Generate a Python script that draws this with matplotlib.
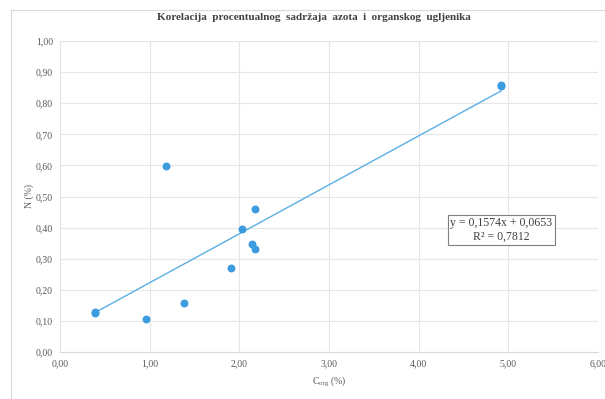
import numpy as np
import matplotlib.pyplot as plt

plt.rcParams['font.family'] = ['Liberation Serif', 'DejaVu Serif']
plt.rcParams['mathtext.fontset'] = 'custom'
plt.rcParams['mathtext.rm'] = 'Liberation Serif'

c_org = [0.39, 0.395, 0.96, 1.18, 1.38, 1.91, 2.03, 2.14, 2.18, 2.18, 4.92, 4.92]
n_pct = [0.128, 0.124, 0.106, 0.598, 0.158, 0.271, 0.394, 0.347, 0.330, 0.459, 0.860, 0.856]
slope, intercept = 0.1574, 0.0653
xticks = np.arange(0, 6.01, 1.0)
yticks = np.arange(0, 1.001, 0.1)

fig = plt.figure(figsize=(6.05, 3.99), dpi=100)
ax = fig.add_axes([60 / 605, 47 / 399, 538 / 605, 311 / 399])

# trendline
xs = np.array([min(c_org), max(c_org)])
ax.plot(xs, slope * xs + intercept, color='#5aaee6', lw=1.0, zorder=2)
ax.scatter(c_org, n_pct, s=22, color='#3d9be0', zorder=3)

ax.set_xlim(0, 6)
ax.set_ylim(0, 1)
ax.set_xticks(xticks)
ax.set_yticks(yticks)
ax.set_xticklabels([f'{v:.2f}'.replace('.', ',') for v in xticks])
ax.set_yticklabels([f'{v:.2f}'.replace('.', ',') for v in yticks])
ax.tick_params(length=0, labelsize=7, colors='#595959', pad=5)
ax.grid(color='#e6e6e6', lw=0.8)
ax.set_axisbelow(True)
for s in ['top', 'right', 'left']:
    ax.spines[s].set_visible(False)
ax.spines['bottom'].set_color('#d9d9d9')

ax.set_xlabel(r'$\mathregular{C_{org}}$ (%)', fontsize=7, color='#595959', labelpad=4)
ax.set_ylabel('N (%)', fontsize=7, color='#595959', labelpad=1)
fig.text(0.518, 0.955, 'Korelacija  procentualnog  sadržaja  azota  i  organskog  ugljenika',
         ha='center', va='center', fontsize=8, fontweight='bold', color='#404040')

ax.text(0.82, 0.392, 'y = 0,1574x + 0,0653\nR² = 0,7812', transform=ax.transAxes,
        ha='center', va='center', fontsize=8.5, color='#404040', linespacing=1.15,
        bbox=dict(boxstyle='square,pad=0.2', fc='white', ec='#7f7f7f', lw=0.8))

# outer chart border (only left and top visible)
fig.add_artist(plt.Line2D([10.5 / 605, 10.5 / 605], [0, 1 - 10 / 399], color='#d9d9d9', lw=0.8))
fig.add_artist(plt.Line2D([10.5 / 605, 1], [1 - 10 / 399, 1 - 10 / 399], color='#d9d9d9', lw=0.8))

fig.savefig('out.png', dpi=100)
